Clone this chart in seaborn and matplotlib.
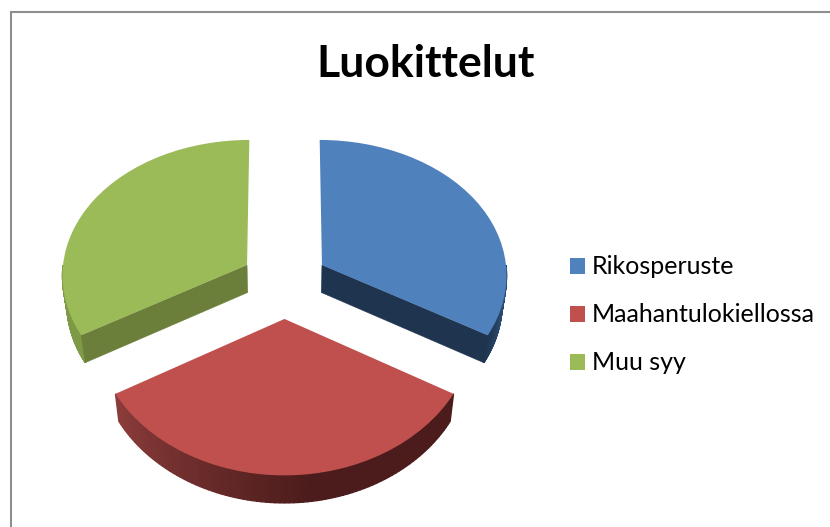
import numpy as np
import seaborn as sns
from matplotlib import pyplot as plt
from matplotlib.transforms import Transform

title = 'Luokittelut'
labels = ['Rikosperuste', 'Maahantulokiellossa', 'Muu syy']
values = [33.3, 33.3, 33.3]
explode = [0.235, 0.27, 0.235]
face_colors = ['#4f81bd', '#c0504d', '#9bbb59']
cut_colors = ['#1f354f', None, '#6b7f3a']
# wall shade from the start of the visible arc to its end
wall_colors = [('#1f354f', '#2c4a70'), ('#8c3d3b', '#4b1c1b'), ('#7f9a47', '#7f9a47')]

# projection of the flat pie onto the picture, in pixels
cx, cy = 284.5, 281
rx, ry = 185.4, 137.5
px, py = 0.0648, 0.08
depth_px = 27.5


def project(u, v, depth=0.0):
    x = cx + rx * u / (1 + px * v) * (1 - 0.02 * depth)
    y = cy - ry * v / (1 + py * v) + depth_px * depth
    return x, y


class Tilt(Transform):
    input_dims = 2
    output_dims = 2
    is_affine = False

    def transform_non_affine(self, values):
        x, y = project(values[:, 0], values[:, 1])
        return np.column_stack([x, y])


sns.set_theme(style='white')
plt.rcParams['font.family'] = ['Lato', 'DejaVu Sans']
palette = sns.color_palette(face_colors)

fig = plt.figure(figsize=(8.3, 5.27), dpi=100)
ax = fig.add_axes([0, 0, 1, 1])

wedges, _ = ax.pie(values, explode=explode, colors=palette, startangle=90,
                   counterclock=False, wedgeprops={'linewidth': 0, 'zorder': 5})
tilt = Tilt() + ax.transData
for w in wedges:
    w.set_transform(tilt)

ax.set_aspect('auto')
ax.set_xlim(0, 830)
ax.set_ylim(527, 0)
ax.axis('off')


def point(i, angle, r, depth):
    a = np.radians(angle)
    mid = np.radians(wedges[i].theta1 + wedges[i].theta2) / 2
    return project(explode[i] * np.cos(mid) + r * np.cos(a),
                   explode[i] * np.sin(mid) + r * np.sin(a), depth)


def cut_face(i, angle):
    p = [point(i, angle, 0, 0), point(i, angle, 1, 0), point(i, angle, 1, 1), point(i, angle, 0, 1)]
    ax.fill(*zip(*p), color=cut_colors[i], lw=0.3, zorder=3)


def outer_wall(i, a0, a1, n=90):
    c0 = np.array(sns.desaturate(wall_colors[i][0], 1))
    c1 = np.array(sns.desaturate(wall_colors[i][1], 1))
    angles = np.linspace(a0, a1, n + 1)
    for k in range(n):
        t = min(1, 1.8 * k / n)
        p = [point(i, angles[k], 1, 0), point(i, angles[k + 1], 1, 0),
             point(i, angles[k + 1], 1, 1), point(i, angles[k], 1, 1)]
        ax.fill(*zip(*p), color=c0 + (c1 - c0) * t, lw=1.0, zorder=2)


# wedge angles come from the pie itself
blue_end = wedges[0].theta1
green_end = wedges[2].theta2
cut_face(0, blue_end)
cut_face(2, green_end)
outer_wall(0, blue_end, 0)
outer_wall(1, wedges[1].theta1, wedges[1].theta2)
outer_wall(2, green_end, -180)

# chart border, only the left and top are inside the crop
ax.plot([11, 11, 830], [527, 12, 12], color='#8e8e8e', lw=1.5, solid_joinstyle='miter', zorder=1)

ax.text(426, 64, title, fontsize=32, fontweight='bold', color='black', ha='center', va='center')

ax.legend(wedges, labels, loc='upper left', bbox_to_anchor=(570 / 830, 1 - 255.5 / 527),
          frameon=False, fontsize=18, handlelength=0.6, handleheight=0.6,
          handletextpad=0.27, labelspacing=1.0, labelcolor='black', borderpad=0, borderaxespad=0)

plt.savefig('out.png', dpi=100)
plt.close()
